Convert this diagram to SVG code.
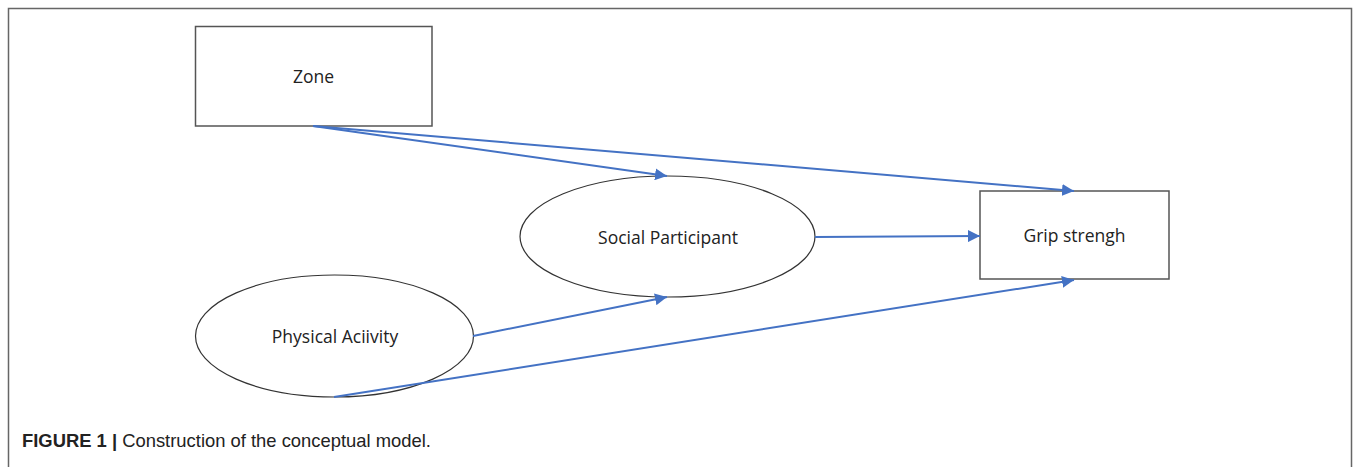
<svg xmlns="http://www.w3.org/2000/svg" width="1357" height="467" viewBox="0 0 1357 467">
<style>
.node{fill:#fff;stroke:#555;stroke-width:1.5}
.ell{fill:#fff;stroke:#333;stroke-width:1.2}
.lbl{font-family:"Open Sans","Liberation Sans",sans-serif;font-size:17.5px;fill:#222;text-anchor:middle}
.conn{stroke:#4472C4;stroke-width:2;fill:none;marker-end:url(#ah)}
.cap{font-family:"Liberation Sans",Arial,sans-serif;font-size:18.4px;fill:#222}
</style>
<defs>
<marker id="ah" viewBox="0 0 10 10" refX="10" refY="5" markerWidth="6" markerHeight="6" orient="auto" markerUnits="strokeWidth">
<path d="M0,0 L10,5 L0,10 z" fill="#4472C4"/>
</marker>
</defs>
<rect width="1357" height="467" fill="#fff"/>
<path d="M8.5,467 V8.5 H1351.5 V467" fill="none" stroke="#666" stroke-width="1.5"/>
<g id="zone"><rect class="node" x="195.5" y="26.5" width="236.5" height="99.5"/><text class="lbl" x="313.5" y="83">Zone</text></g>
<g id="social"><ellipse class="ell" cx="667.5" cy="236.5" rx="147.5" ry="60.5"/><text class="lbl" x="668" y="244">Social Participant</text></g>
<g id="grip"><rect class="node" x="980" y="191" width="189" height="88"/><text class="lbl" x="1074.5" y="241.5">Grip strengh</text></g>
<g id="physical"><ellipse class="ell" cx="334.5" cy="336" rx="139" ry="61"/><text class="lbl" x="335" y="343">Physical Aciivity</text></g>
<g id="connectors">
<line class="conn" x1="313" y1="126" x2="667" y2="176"/>
<line class="conn" x1="313" y1="126" x2="1074" y2="191"/>
<line class="conn" x1="815" y1="237" x2="980" y2="236"/>
<line class="conn" x1="473" y1="336" x2="667" y2="297"/>
<line class="conn" x1="334" y1="397" x2="1074" y2="280"/>
</g>
<text class="cap" x="22" y="447"><tspan font-weight="bold">FIGURE 1 |</tspan> Construction of the conceptual model.</text>
</svg>
